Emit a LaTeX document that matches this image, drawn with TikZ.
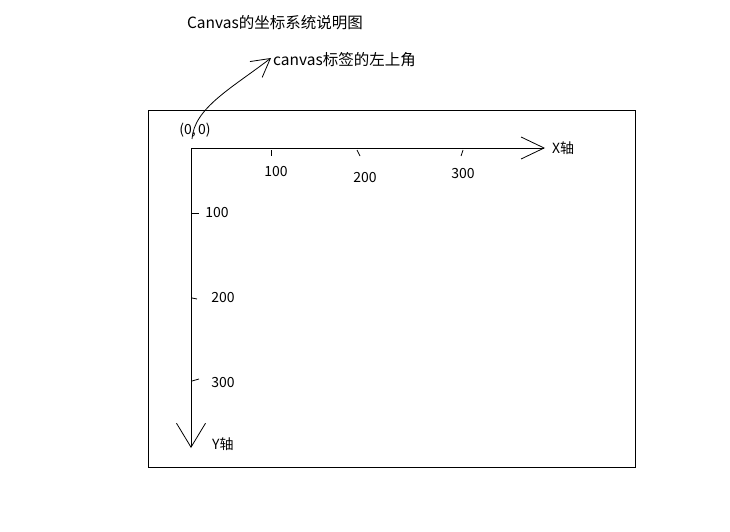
\documentclass[tikz,border=0pt]{standalone}
\usepackage{fontspec}
\setmainfont{Noto Sans CJK SC}
\usetikzlibrary{arrows.meta}
\tikzset{
  lbl/.style={inner sep=0pt, font=\fontsize{14}{16}\selectfont},
  big/.style={inner sep=0pt, font=\fontsize{15.5}{17}\selectfont},
  axis/.style={line width=0.9pt},
  tick/.style={line width=0.8pt},
}
\begin{document}
\begin{tikzpicture}[x=1pt,y=-1pt]
\useasboundingbox (0,0) rectangle (730,532);
% canvas frame
\draw[line width=0.9pt] (148,110) rectangle (635,467);
% titles
\node[big] (title) at (275,23) {Canvas的坐标系统说明图};
\node[big, anchor=west] (corner) at (273,60) {canvas标签的左上角};
\node[lbl] (origin) at (195,130) {(0,\,0)};
% axes
\coordinate (O) at (191,148);
\coordinate (XE) at (545,148);
\coordinate (YE) at (191,448);
\coordinate (C0) at (192,139);
\coordinate (CT) at (271,58);
\draw[axis, -{Straight Barb[length=23pt,width=22pt,line width=0.8pt]}] (O) -- (XE);
\draw[axis, -{Straight Barb[length=24pt,width=29pt,line width=0.8pt]}] (O) -- (YE);
\node[lbl, anchor=west] (xl) at (552,148) {X轴};
\node[lbl, anchor=west] (yl) at (212,444) {Y轴};
% curved pointer
\draw[line width=0.8pt, -{Straight Barb[length=18pt,width=20pt,line width=0.8pt]}]
  (C0) .. controls (194,108) and (232,88) .. (CT);
% x ticks
\draw[tick] (271,150) -- (271,156);
\draw[tick] (357,150) -- (360,156);
\draw[tick] (463,150) -- (461,156);
\node[lbl] (x100) at (276,172) {100};
\node[lbl] (x200) at (365,178) {200};
\node[lbl] (x300) at (463,174) {300};
% y ticks
\draw[tick] (192,213) -- (199,213);
\draw[tick] (192,298) -- (197,299);
\draw[tick] (192,381) -- (199,379);
\node[lbl] (y100) at (217,213) {100};
\node[lbl] (y200) at (223,298) {200};
\node[lbl] (y300) at (223,383) {300};
\end{tikzpicture}
\end{document}
